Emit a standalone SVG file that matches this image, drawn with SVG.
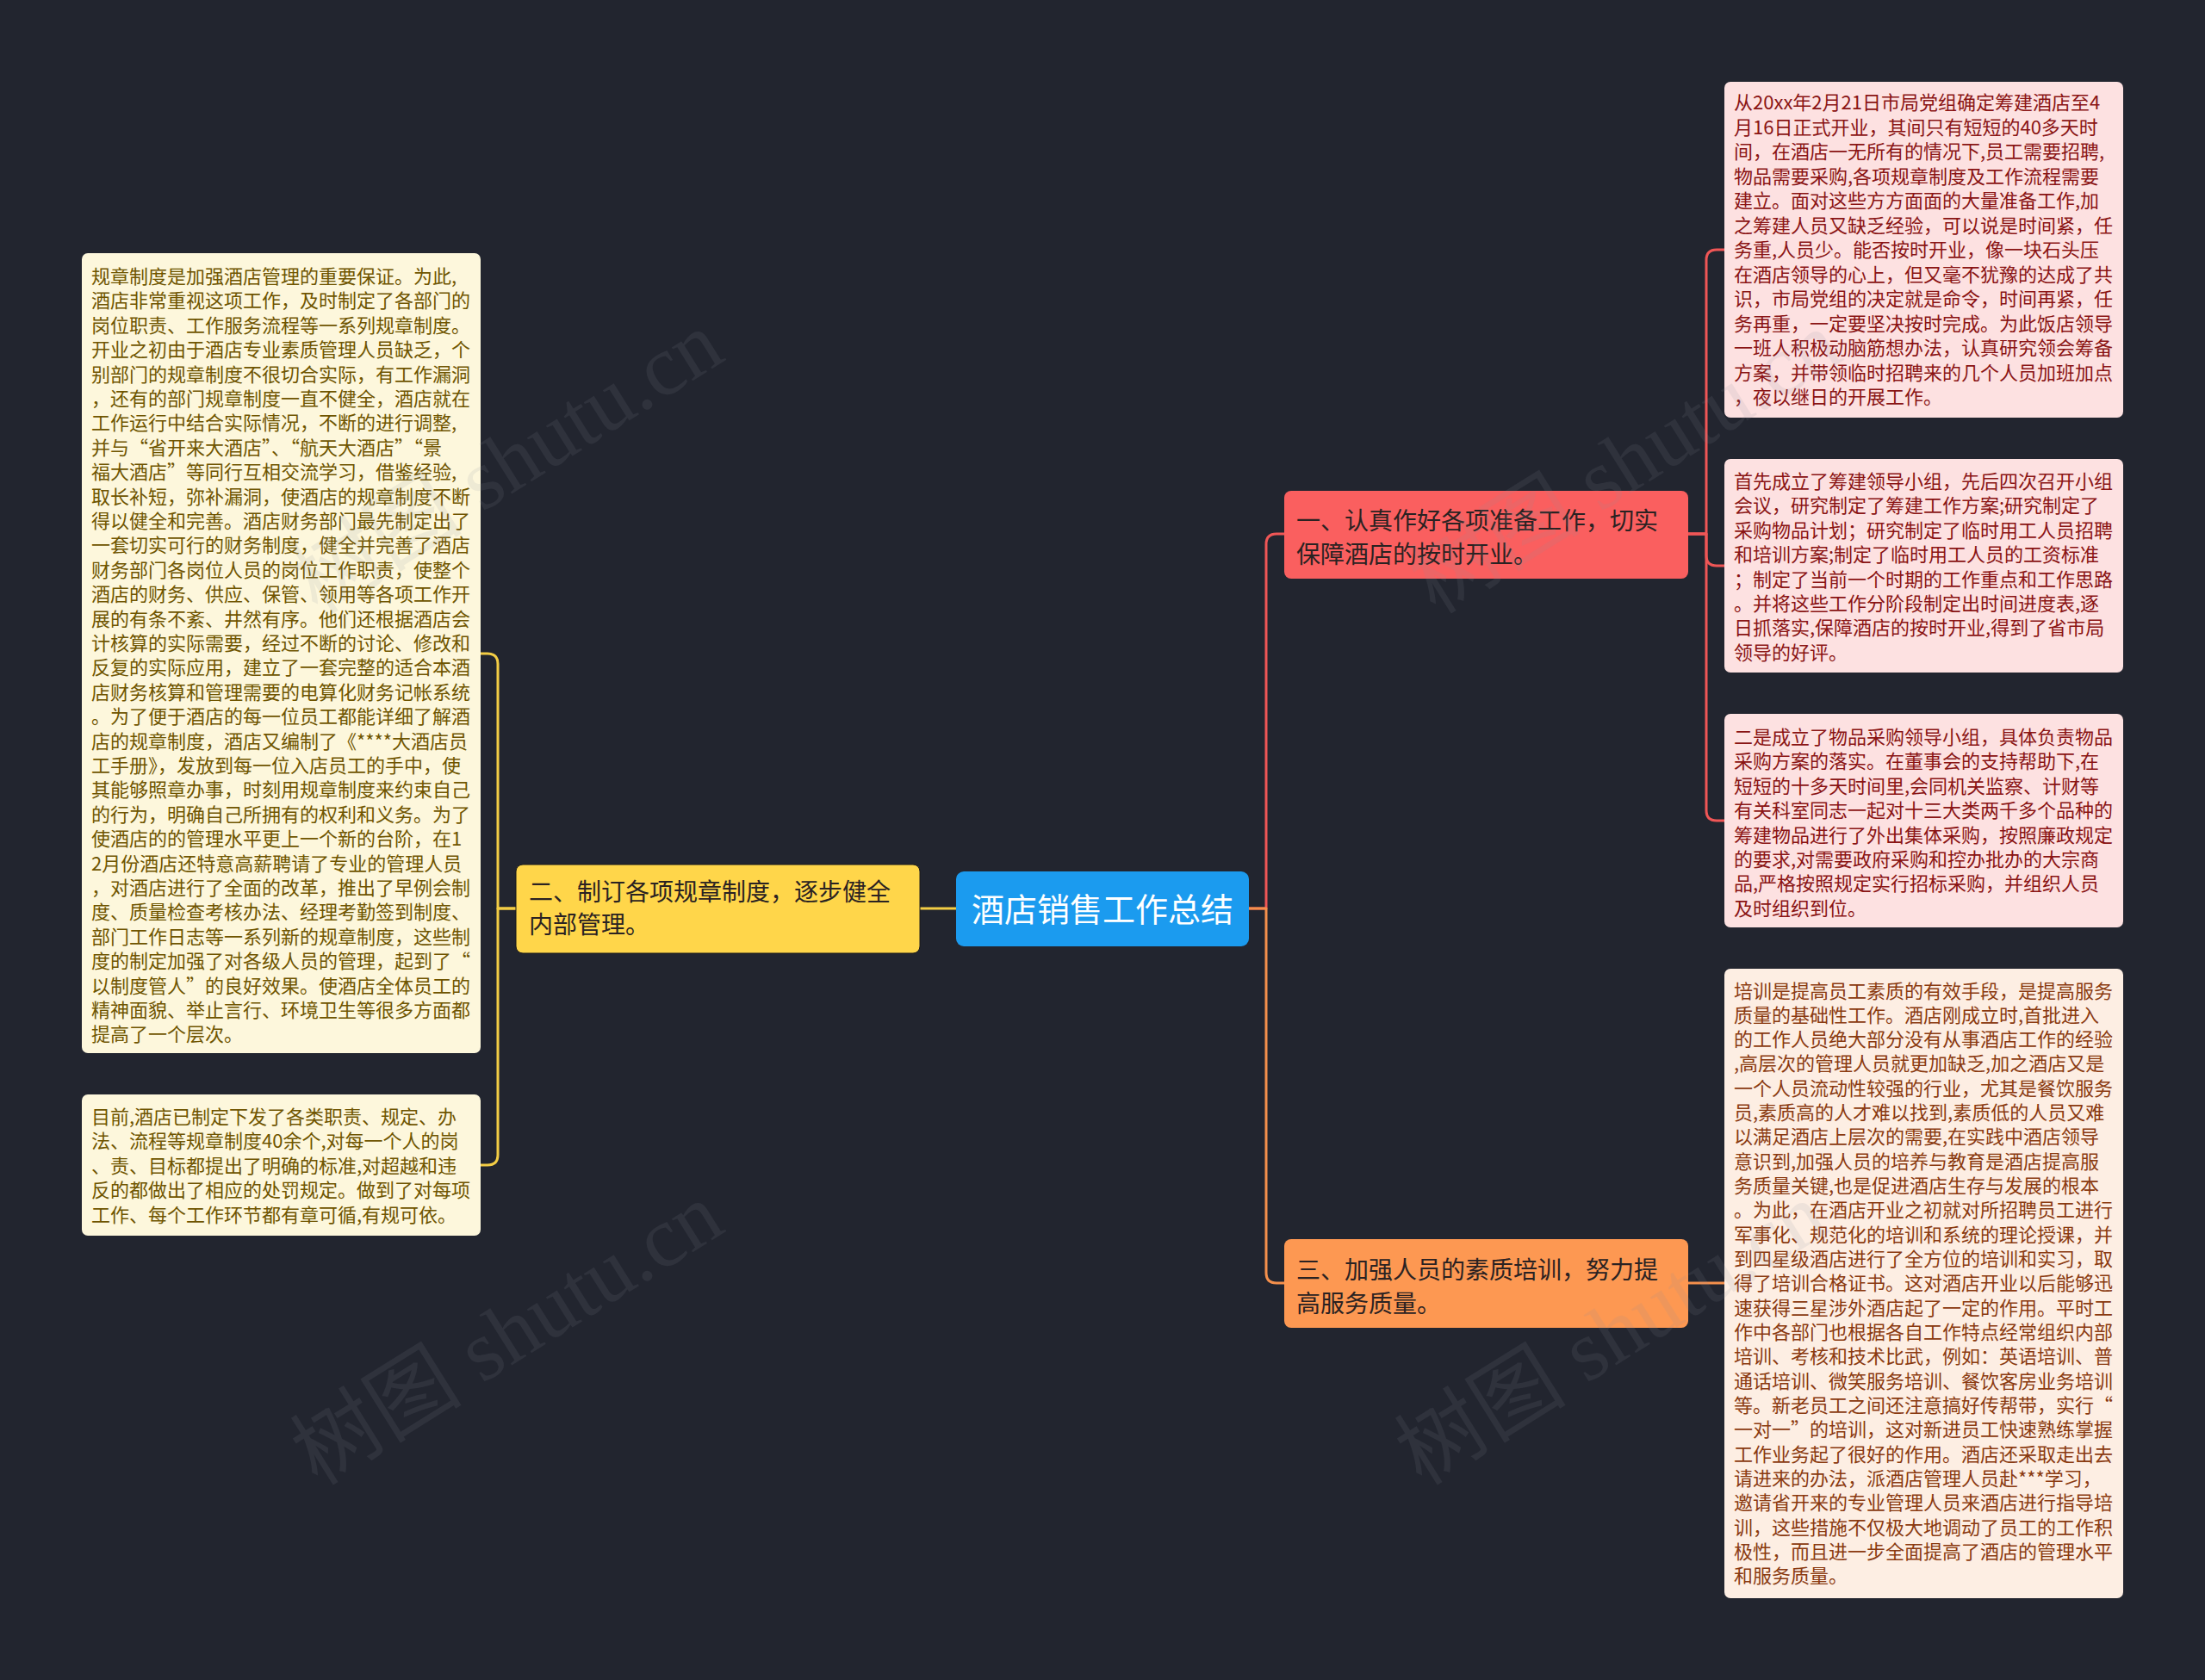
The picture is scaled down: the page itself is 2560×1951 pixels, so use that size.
<svg xmlns="http://www.w3.org/2000/svg" width="2560" height="1951" viewBox="0 0 2560 1951">
<style>
text{font-family:"Noto Sans CJK SC","Noto Sans",sans-serif;dominant-baseline:central}
.blk{font-size:22px}
.cream{fill:#fdf7dc}
.creamT{fill:#6f5500}
.pink{fill:#fde1e1}
.pinkT{fill:#8a1414}
.peach{fill:#fdeee3}
.peachT{fill:#8a3a10}
.br{font-size:28px;fill:#2a2222}
.ln{fill:none;stroke-width:3;stroke-linejoin:round}
.wm{font-family:"Liberation Serif","Noto Sans CJK SC",serif;font-size:100px;fill:#8a8f9c;opacity:0.12}
</style>
<rect x="0" y="0" width="2560" height="1951" fill="#22252f"/>
<g id="connectors">
<path class="ln" stroke="#f3cd45" d="M1110,1055 L1068,1055"/>
<path class="ln" stroke="#f3cd45" d="M599,1055 L578,1055 L578,771 Q578,759 566,759 L558,759"/>
<path class="ln" stroke="#f3cd45" d="M599,1055 L578,1055 L578,1341 Q578,1353 566,1353 L558,1353"/>
<path class="ln" stroke="#f05656" d="M1450,1055 L1470,1055 L1470,632 Q1470,620 1482,620 L1491,620"/>
<path class="ln" stroke="#f5904c" d="M1450,1055 L1470,1055 L1470,1478 Q1470,1490 1482,1490 L1491,1490"/>
<path class="ln" stroke="#f05656" d="M1959,620 L1981,620 L1981,302 Q1981,290 1993,290 L2002,290"/>
<path class="ln" stroke="#f05656" d="M1959,620 L1981,620 L1981,645 Q1981,657 1993,657 L2002,657"/>
<path class="ln" stroke="#f05656" d="M1959,620 L1981,620 L1981,941 Q1981,953 1993,953 L2002,953"/>
<path class="ln" stroke="#f5904c" d="M1959,1490 L2002,1490"/>
</g>
<g id="root">
<rect x="1110" y="1012" width="340" height="87" rx="9" fill="#1b9bef"/>
<text x="1280" y="1053" text-anchor="middle" font-size="38" fill="#ffffff">酒店销售工作总结</text>
</g>
<g id="branch2">
<rect x="599" y="1004" width="469" height="103" rx="8" fill="#ffd64a" stroke="#1a1a1a" stroke-width="1"/>
<text class="br" x="614" y="1034">二、制订各项规章制度，逐步健全</text>
<text class="br" x="614" y="1072">内部管理。</text>
</g>
<g id="branch1">
<rect x="1491" y="570" width="469" height="102" rx="8" fill="#fa5f5f"/>
<text class="br" x="1505" y="603">一、认真作好各项准备工作，切实</text>
<text class="br" x="1505" y="642">保障酒店的按时开业。</text>
</g>
<g id="branch3">
<rect x="1491" y="1439" width="469" height="103" rx="8" fill="#fd9852"/>
<text class="br" x="1505" y="1473">三、加强人员的素质培训，努力提</text>
<text class="br" x="1505" y="1512">高服务质量。</text>
</g>
<g id="leaf2a">
<rect class="cream" x="95" y="294" width="463" height="929" rx="7"/>
<text class="blk creamT" x="106" y="319">
<tspan x="106" dy="0">规章制度是加强酒店管理的重要保证。为此,</tspan>
<tspan x="106" dy="28.4">酒店非常重视这项工作，及时制定了各部门的</tspan>
<tspan x="106" dy="28.4">岗位职责、工作服务流程等一系列规章制度。</tspan>
<tspan x="106" dy="28.4">开业之初由于酒店专业素质管理人员缺乏，个</tspan>
<tspan x="106" dy="28.4">别部门的规章制度不很切合实际，有工作漏洞</tspan>
<tspan x="106" dy="28.4">，还有的部门规章制度一直不健全，酒店就在</tspan>
<tspan x="106" dy="28.4">工作运行中结合实际情况，不断的进行调整,</tspan>
<tspan x="106" dy="28.4">并与“省开来大酒店”、“航天大酒店”“景</tspan>
<tspan x="106" dy="28.4">福大酒店”等同行互相交流学习，借鉴经验,</tspan>
<tspan x="106" dy="28.4">取长补短，弥补漏洞，使酒店的规章制度不断</tspan>
<tspan x="106" dy="28.4">得以健全和完善。酒店财务部门最先制定出了</tspan>
<tspan x="106" dy="28.4">一套切实可行的财务制度，健全并完善了酒店</tspan>
<tspan x="106" dy="28.4">财务部门各岗位人员的岗位工作职责，使整个</tspan>
<tspan x="106" dy="28.4">酒店的财务、供应、保管、领用等各项工作开</tspan>
<tspan x="106" dy="28.4">展的有条不紊、井然有序。他们还根据酒店会</tspan>
<tspan x="106" dy="28.4">计核算的实际需要，经过不断的讨论、修改和</tspan>
<tspan x="106" dy="28.4">反复的实际应用，建立了一套完整的适合本酒</tspan>
<tspan x="106" dy="28.4">店财务核算和管理需要的电算化财务记帐系统</tspan>
<tspan x="106" dy="28.4">。为了便于酒店的每一位员工都能详细了解酒</tspan>
<tspan x="106" dy="28.4">店的规章制度，酒店又编制了《****大酒店员</tspan>
<tspan x="106" dy="28.4">工手册》，发放到每一位入店员工的手中，使</tspan>
<tspan x="106" dy="28.4">其能够照章办事，时刻用规章制度来约束自己</tspan>
<tspan x="106" dy="28.4">的行为，明确自己所拥有的权利和义务。为了</tspan>
<tspan x="106" dy="28.4">使酒店的的管理水平更上一个新的台阶，在1</tspan>
<tspan x="106" dy="28.4">2月份酒店还特意高薪聘请了专业的管理人员</tspan>
<tspan x="106" dy="28.4">，对酒店进行了全面的改革，推出了早例会制</tspan>
<tspan x="106" dy="28.4">度、质量检查考核办法、经理考勤签到制度、</tspan>
<tspan x="106" dy="28.4">部门工作日志等一系列新的规章制度，这些制</tspan>
<tspan x="106" dy="28.4">度的制定加强了对各级人员的管理，起到了“</tspan>
<tspan x="106" dy="28.4">以制度管人”的良好效果。使酒店全体员工的</tspan>
<tspan x="106" dy="28.4">精神面貌、举止言行、环境卫生等很多方面都</tspan>
<tspan x="106" dy="28.4">提高了一个层次。</tspan>
</text>
</g>
<g id="leaf2b">
<rect class="cream" x="95" y="1271" width="463" height="164" rx="7"/>
<text class="blk creamT" x="106" y="1295">
<tspan x="106" dy="0">目前,酒店已制定下发了各类职责、规定、办</tspan>
<tspan x="106" dy="28.4">法、流程等规章制度40余个,对每一个人的岗</tspan>
<tspan x="106" dy="28.4">、责、目标都提出了明确的标准,对超越和违</tspan>
<tspan x="106" dy="28.4">反的都做出了相应的处罚规定。做到了对每项</tspan>
<tspan x="106" dy="28.4">工作、每个工作环节都有章可循,有规可依。</tspan>
</text>
</g>
<g id="leaf1a">
<rect class="pink" x="2002" y="95" width="463" height="390" rx="7"/>
<text class="blk pinkT" x="2013" y="117">
<tspan x="2013" dy="0">从20xx年2月21日市局党组确定筹建酒店至4</tspan>
<tspan x="2013" dy="28.5">月16日正式开业，其间只有短短的40多天时</tspan>
<tspan x="2013" dy="28.5">间，在酒店一无所有的情况下,员工需要招聘,</tspan>
<tspan x="2013" dy="28.5">物品需要采购,各项规章制度及工作流程需要</tspan>
<tspan x="2013" dy="28.5">建立。面对这些方方面面的大量准备工作,加</tspan>
<tspan x="2013" dy="28.5">之筹建人员又缺乏经验，可以说是时间紧，任</tspan>
<tspan x="2013" dy="28.5">务重,人员少。能否按时开业，像一块石头压</tspan>
<tspan x="2013" dy="28.5">在酒店领导的心上，但又毫不犹豫的达成了共</tspan>
<tspan x="2013" dy="28.5">识，市局党组的决定就是命令，时间再紧，任</tspan>
<tspan x="2013" dy="28.5">务再重，一定要坚决按时完成。为此饭店领导</tspan>
<tspan x="2013" dy="28.5">一班人积极动脑筋想办法，认真研究领会筹备</tspan>
<tspan x="2013" dy="28.5">方案，并带领临时招聘来的几个人员加班加点</tspan>
<tspan x="2013" dy="28.5">，夜以继日的开展工作。</tspan>
</text>
</g>
<g id="leaf1b">
<rect class="pink" x="2002" y="533" width="463" height="248" rx="7"/>
<text class="blk pinkT" x="2013" y="557">
<tspan x="2013" dy="0">首先成立了筹建领导小组，先后四次召开小组</tspan>
<tspan x="2013" dy="28.4">会议，研究制定了筹建工作方案;研究制定了</tspan>
<tspan x="2013" dy="28.4">采购物品计划；研究制定了临时用工人员招聘</tspan>
<tspan x="2013" dy="28.4">和培训方案;制定了临时用工人员的工资标准</tspan>
<tspan x="2013" dy="28.4">；制定了当前一个时期的工作重点和工作思路</tspan>
<tspan x="2013" dy="28.4">。并将这些工作分阶段制定出时间进度表,逐</tspan>
<tspan x="2013" dy="28.4">日抓落实,保障酒店的按时开业,得到了省市局</tspan>
<tspan x="2013" dy="28.4">领导的好评。</tspan>
</text>
</g>
<g id="leaf1c">
<rect class="pink" x="2002" y="829" width="463" height="248" rx="7"/>
<text class="blk pinkT" x="2013" y="854">
<tspan x="2013" dy="0">二是成立了物品采购领导小组，具体负责物品</tspan>
<tspan x="2013" dy="28.4">采购方案的落实。在董事会的支持帮助下,在</tspan>
<tspan x="2013" dy="28.4">短短的十多天时间里,会同机关监察、计财等</tspan>
<tspan x="2013" dy="28.4">有关科室同志一起对十三大类两千多个品种的</tspan>
<tspan x="2013" dy="28.4">筹建物品进行了外出集体采购，按照廉政规定</tspan>
<tspan x="2013" dy="28.4">的要求,对需要政府采购和控办批办的大宗商</tspan>
<tspan x="2013" dy="28.4">品,严格按照规定实行招标采购，并组织人员</tspan>
<tspan x="2013" dy="28.4">及时组织到位。</tspan>
</text>
</g>
<g id="leaf3a">
<rect class="peach" x="2002" y="1125" width="463" height="731" rx="7"/>
<text class="blk peachT" x="2013" y="1148.5">
<tspan x="2013" dy="0">培训是提高员工素质的有效手段，是提高服务</tspan>
<tspan x="2013" dy="28.33">质量的基础性工作。酒店刚成立时,首批进入</tspan>
<tspan x="2013" dy="28.33">的工作人员绝大部分没有从事酒店工作的经验</tspan>
<tspan x="2013" dy="28.33">,高层次的管理人员就更加缺乏,加之酒店又是</tspan>
<tspan x="2013" dy="28.33">一个人员流动性较强的行业，尤其是餐饮服务</tspan>
<tspan x="2013" dy="28.33">员,素质高的人才难以找到,素质低的人员又难</tspan>
<tspan x="2013" dy="28.33">以满足酒店上层次的需要,在实践中酒店领导</tspan>
<tspan x="2013" dy="28.33">意识到,加强人员的培养与教育是酒店提高服</tspan>
<tspan x="2013" dy="28.33">务质量关键,也是促进酒店生存与发展的根本</tspan>
<tspan x="2013" dy="28.33">。为此，在酒店开业之初就对所招聘员工进行</tspan>
<tspan x="2013" dy="28.33">军事化、规范化的培训和系统的理论授课，并</tspan>
<tspan x="2013" dy="28.33">到四星级酒店进行了全方位的培训和实习，取</tspan>
<tspan x="2013" dy="28.33">得了培训合格证书。这对酒店开业以后能够迅</tspan>
<tspan x="2013" dy="28.33">速获得三星涉外酒店起了一定的作用。平时工</tspan>
<tspan x="2013" dy="28.33">作中各部门也根据各自工作特点经常组织内部</tspan>
<tspan x="2013" dy="28.33">培训、考核和技术比武，例如：英语培训、普</tspan>
<tspan x="2013" dy="28.33">通话培训、微笑服务培训、餐饮客房业务培训</tspan>
<tspan x="2013" dy="28.33">等。新老员工之间还注意搞好传帮带，实行“</tspan>
<tspan x="2013" dy="28.33">一对一”的培训，这对新进员工快速熟练掌握</tspan>
<tspan x="2013" dy="28.33">工作业务起了很好的作用。酒店还采取走出去</tspan>
<tspan x="2013" dy="28.33">请进来的办法，派酒店管理人员赴***学习，</tspan>
<tspan x="2013" dy="28.33">邀请省开来的专业管理人员来酒店进行指导培</tspan>
<tspan x="2013" dy="28.33">训，这些措施不仅极大地调动了员工的工作积</tspan>
<tspan x="2013" dy="28.33">极性，而且进一步全面提高了酒店的管理水平</tspan>
<tspan x="2013" dy="28.33">和服务质量。</tspan>
</text>
</g>
<g id="watermarks">
<text class="wm" transform="translate(351,686) rotate(-32)">树图 shutu.cn</text>
<text class="wm" transform="translate(1649,686) rotate(-32)">树图 shutu.cn</text>
<text class="wm" transform="translate(351,1698) rotate(-32)">树图 shutu.cn</text>
<text class="wm" transform="translate(1633,1698) rotate(-32)">树图 shutu.cn</text>
</g>
</svg>
